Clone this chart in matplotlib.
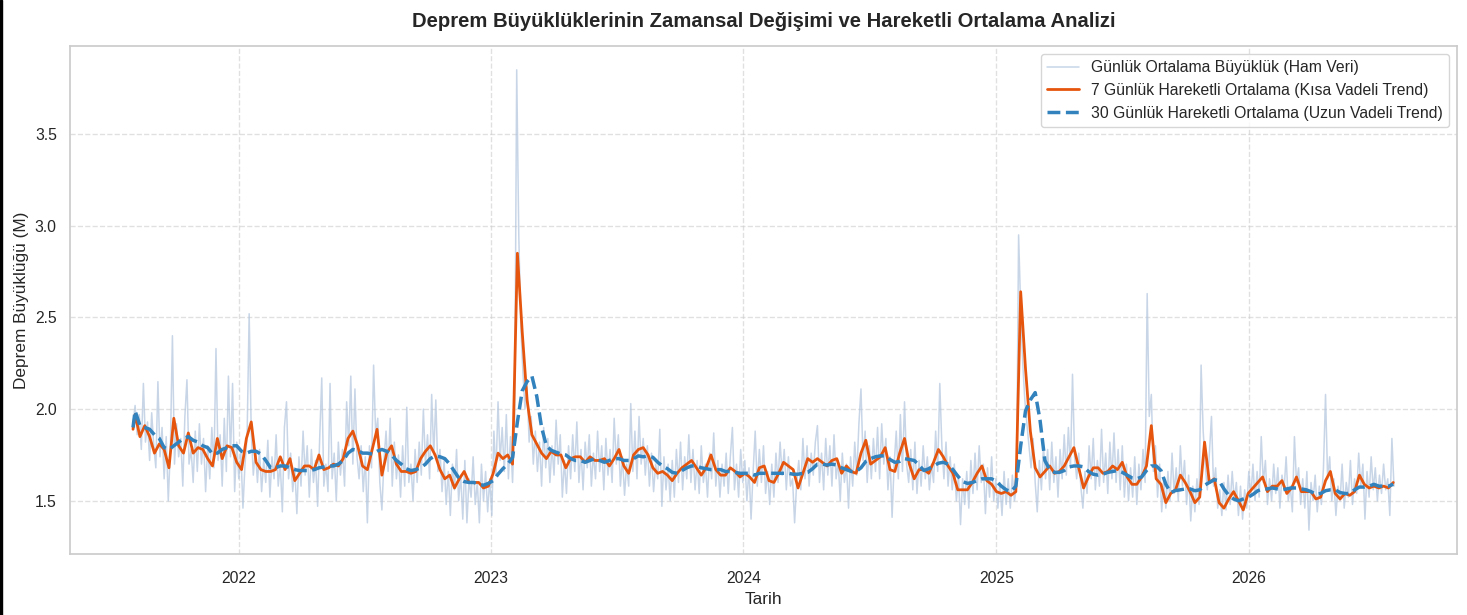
import matplotlib
matplotlib.use('Agg')
import matplotlib.pyplot as plt
import matplotlib.dates as mdates
from matplotlib.patches import Rectangle
import pandas as pd
import seaborn as sns

# gunluk ortalama buyukluk (ham veri), 3 gunde bir okunan degerler, 2021-08-01'den itibaren
raw_values = [
    1.92, 2.02, 1.86, 1.97, 1.78, 2.14, 1.82, 1.93, 1.72, 1.98, 1.80, 1.68, 2.15, 1.74, 1.90,
    1.62, 1.85, 1.50, 1.78, 2.40, 1.70, 1.92, 1.74, 1.84, 1.58, 1.96, 2.16, 1.70, 1.78, 1.60,
    1.88, 1.66, 1.92, 1.70, 1.84, 1.55, 1.80, 1.62, 1.90, 1.68, 2.33, 1.72, 1.86, 1.58, 1.95,
    1.66, 2.18, 1.74, 2.14, 1.55, 1.82, 1.62, 1.76, 1.46, 1.70, 1.85, 2.52, 1.88, 1.64, 1.78,
    1.60, 1.78, 1.55, 1.72, 1.60, 1.83, 1.52, 1.74, 1.62, 1.86, 1.58, 1.70, 1.44, 1.90, 2.04,
    1.62, 1.76, 1.55, 1.68, 1.43, 1.74, 1.58, 1.88, 1.64, 1.80, 1.52, 1.78, 1.60, 1.72, 1.47,
    1.84, 2.17, 1.58, 1.70, 1.55, 2.14, 1.62, 1.76, 1.50, 1.82, 1.64, 1.78, 1.58, 2.04, 1.80,
    2.18, 1.70, 2.11, 1.74, 1.62, 1.80, 1.55, 1.74, 1.38, 1.80, 1.68, 2.24, 1.86, 1.95, 1.60,
    1.45, 1.72, 1.88, 1.66, 1.95, 1.58, 1.82, 1.62, 1.75, 1.52, 1.80, 1.58, 2.01, 1.60, 1.70,
    1.50, 1.78, 1.60, 1.82, 1.64, 2.00, 1.70, 1.86, 1.62, 2.08, 1.75, 2.05, 1.66, 1.78, 1.55,
    1.72, 1.48, 1.66, 1.42, 1.70, 1.56, 1.78, 1.50, 1.64, 1.40, 1.72, 1.38, 1.62, 1.52, 1.74,
    1.48, 1.60, 1.38, 1.70, 1.50, 1.66, 1.44, 1.62, 1.42, 1.88, 1.64, 2.04, 1.72, 1.90, 1.66,
    1.97, 1.62, 1.85, 1.60, 1.95, 3.85, 2.95, 2.45, 2.20, 2.00, 2.12, 1.82, 1.96, 1.70, 1.88,
    1.66, 1.82, 1.58, 1.90, 1.68, 1.84, 1.60, 1.80, 1.64, 1.94, 1.70, 1.86, 1.52, 1.72, 1.54,
    1.80, 1.62, 1.86, 1.66, 1.93, 1.60, 1.78, 1.56, 1.82, 1.68, 1.86, 1.58, 1.76, 1.62, 1.88,
    1.66, 1.80, 1.56, 1.84, 1.64, 1.78, 1.60, 1.95, 1.70, 1.86, 1.58, 1.74, 1.53, 1.70, 1.58,
    2.03, 1.66, 1.88, 1.62, 1.96, 1.70, 1.84, 1.64, 1.80, 1.58, 1.76, 1.55, 1.70, 1.62, 1.89,
    1.47, 1.74, 1.56, 1.70, 1.50, 1.72, 1.52, 1.78, 1.60, 1.82, 1.56, 1.74, 1.62, 1.86, 1.60,
    1.78, 1.56, 1.72, 1.54, 1.80, 1.60, 1.70, 1.52, 1.76, 1.62, 1.87, 1.58, 1.72, 1.52, 1.70,
    1.58, 1.76, 1.54, 1.74, 1.90, 1.56, 1.70, 1.52, 1.78, 1.60, 1.72, 1.50, 1.68, 1.40, 1.66,
    1.88, 1.58, 1.78, 1.60, 1.80, 1.54, 1.66, 1.48, 1.70, 1.52, 1.76, 1.60, 1.82, 1.64, 1.78,
    1.56, 1.74, 1.58, 1.62, 1.38, 1.60, 1.72, 1.56, 1.84, 1.62, 1.80, 1.58, 1.76, 1.64, 1.82,
    1.91, 1.60, 1.76, 1.56, 1.84, 1.64, 1.80, 1.58, 1.86, 1.62, 1.72, 1.50, 1.76, 1.60, 1.70,
    1.46, 1.74, 1.58, 1.82, 1.64, 1.92, 2.11, 1.72, 1.88, 1.60, 1.80, 1.62, 1.84, 1.66, 1.90,
    1.62, 1.92, 1.70, 1.84, 1.56, 1.74, 1.41, 1.70, 1.88, 1.62, 1.97, 1.66, 2.04, 1.70, 1.60,
    1.78, 1.56, 1.82, 1.54, 1.72, 1.58, 1.80, 1.62, 1.74, 1.56, 1.70, 1.60, 1.88, 1.66, 2.14,
    1.80, 1.62, 1.82, 1.58, 1.74, 1.56, 1.70, 1.50, 1.64, 1.37, 1.62, 1.48, 1.66, 1.46, 1.72,
    1.54, 1.76, 1.56, 1.80, 1.60, 1.70, 1.43, 1.68, 1.52, 1.74, 1.50, 1.62, 1.46, 1.60, 1.42,
    1.66, 1.48, 1.62, 1.46, 1.64, 1.50, 1.58, 2.95, 2.55, 2.25, 2.05, 1.92, 1.80, 1.68, 1.84,
    1.60, 1.44, 1.72, 1.56, 1.80, 1.62, 1.78, 1.56, 1.82, 1.60, 1.74, 1.52, 1.78, 1.62, 1.86,
    1.64, 1.90, 1.68, 2.19, 1.74, 1.62, 1.76, 1.58, 1.46, 1.66, 1.54, 1.80, 1.62, 1.84, 1.56,
    1.72, 1.58, 1.89, 1.60, 1.76, 1.54, 1.82, 1.62, 1.87, 1.60, 1.78, 1.56, 1.80, 1.52, 1.70,
    1.50, 1.68, 1.52, 1.74, 1.48, 1.70, 1.56, 1.78, 1.60, 2.63, 1.96, 2.08, 1.66, 1.80, 1.52,
    1.70, 1.44, 1.62, 1.46, 1.66, 1.50, 1.76, 1.54, 1.68, 1.50, 1.80, 1.58, 1.72, 1.48, 1.64,
    1.39, 1.58, 1.44, 1.62, 1.48, 2.24, 1.88, 1.70, 1.56, 1.76, 1.96, 1.58, 1.68, 1.46, 1.56,
    1.42, 1.60, 1.45, 1.64, 1.48, 1.66, 1.50, 1.60, 1.42, 1.58, 1.40, 1.56, 1.46, 1.66, 1.52,
    1.70, 1.50, 1.66, 1.52, 1.85, 1.60, 1.72, 1.48, 1.62, 1.50, 1.70, 1.54, 1.68, 1.46, 1.64,
    1.56, 1.74, 1.50, 1.58, 1.44, 1.85, 1.60, 1.68, 1.48, 1.62, 1.46, 1.66, 1.34, 1.60, 1.50,
    1.64, 1.44, 1.58, 1.48, 1.68, 2.08, 1.62, 1.74, 1.50, 1.62, 1.42, 1.58, 1.50, 1.70, 1.46,
    1.60, 1.52, 1.72, 1.48, 1.62, 1.54, 1.76, 1.58, 1.70, 1.40, 1.66, 1.52, 1.74, 1.56, 1.68,
    1.50, 1.64, 1.54, 1.70, 1.56, 1.62, 1.42, 1.84, 1.58,
]

# 7 gunluk hareketli ortalama, haftalik okunan degerler
ma7_values = [
    1.89,
    1.97, 1.85, 1.91, 1.85, 1.76, 1.81, 1.78, 1.68, 1.95, 1.80, 1.76, 1.87, 1.76,
    1.79, 1.78, 1.73, 1.69, 1.84, 1.73, 1.80, 1.79, 1.71, 1.67, 1.84, 1.93, 1.71,
    1.67, 1.66, 1.66, 1.67, 1.74, 1.67, 1.73, 1.61, 1.65, 1.69, 1.69, 1.67, 1.75,
    1.67, 1.68, 1.70, 1.69, 1.73, 1.84, 1.88, 1.80, 1.69, 1.67, 1.78, 1.89, 1.64,
    1.76, 1.80, 1.70, 1.66, 1.66, 1.65, 1.66, 1.73, 1.77, 1.80, 1.75, 1.67, 1.62,
    1.64, 1.57, 1.62, 1.66, 1.60, 1.60, 1.60, 1.57, 1.58, 1.65, 1.76, 1.73, 1.75,
    1.70, 2.85, 2.42, 2.05, 1.86, 1.81, 1.76, 1.73, 1.77, 1.75, 1.75, 1.68, 1.73,
    1.74, 1.74, 1.71, 1.74, 1.72, 1.72, 1.73, 1.69, 1.73, 1.78, 1.69, 1.65, 1.75,
    1.78, 1.79, 1.75, 1.68, 1.65, 1.66, 1.64, 1.61, 1.65, 1.68, 1.70, 1.72, 1.68,
    1.64, 1.68, 1.75, 1.67, 1.64, 1.64, 1.68, 1.66, 1.63, 1.65, 1.63, 1.60, 1.68,
    1.69, 1.61, 1.60, 1.65, 1.71, 1.69, 1.67, 1.57, 1.65, 1.73, 1.71, 1.73, 1.71,
    1.69, 1.72, 1.73, 1.65, 1.69, 1.66, 1.65, 1.76, 1.83, 1.70, 1.72, 1.74, 1.79,
    1.67, 1.66, 1.76, 1.84, 1.70, 1.62, 1.67, 1.67, 1.65, 1.71, 1.78, 1.74, 1.69,
    1.65, 1.56, 1.56, 1.56, 1.60, 1.65, 1.69, 1.61, 1.59, 1.55, 1.54, 1.55, 1.53,
    1.55, 2.64, 2.22, 1.88, 1.68, 1.63, 1.66, 1.69, 1.65, 1.66, 1.69, 1.74, 1.79,
    1.68, 1.57, 1.63, 1.68, 1.68, 1.65, 1.66, 1.69, 1.67, 1.71, 1.63, 1.59, 1.59,
    1.63, 1.69, 1.91, 1.62, 1.59, 1.49, 1.54, 1.56, 1.64, 1.60, 1.55, 1.49, 1.52,
    1.82, 1.60, 1.62, 1.49, 1.46, 1.51, 1.55, 1.50, 1.45, 1.54, 1.57, 1.60, 1.63,
    1.55, 1.58, 1.58, 1.61, 1.54, 1.57, 1.63, 1.55, 1.55, 1.55, 1.51, 1.52, 1.61,
    1.66, 1.54, 1.51, 1.54, 1.53, 1.55, 1.64, 1.59, 1.57, 1.58, 1.57, 1.58, 1.57, 1.60,
]

# 30 gunluk hareketli ortalama, haftalik okunan degerler
ma30_values = [
    1.90,
    1.99, 1.91, 1.90, 1.89, 1.86, 1.84, 1.79, 1.78, 1.80, 1.82, 1.84, 1.85, 1.83,
    1.82, 1.80, 1.79, 1.755, 1.76, 1.78, 1.79, 1.80, 1.80, 1.77, 1.76, 1.77, 1.77,
    1.755, 1.72, 1.68, 1.68, 1.69, 1.69, 1.68, 1.67, 1.665, 1.665, 1.665, 1.67, 1.68,
    1.685, 1.69, 1.69, 1.70, 1.72, 1.76, 1.78, 1.775, 1.76, 1.76, 1.755, 1.77, 1.78,
    1.77, 1.75, 1.72, 1.70, 1.675, 1.665, 1.67, 1.68, 1.70, 1.73, 1.745, 1.74, 1.73,
    1.70, 1.66, 1.62, 1.605, 1.60, 1.60, 1.59, 1.585, 1.595, 1.61, 1.645, 1.675, 1.70,
    1.735, 1.93, 2.10, 2.15, 2.18, 2.07, 1.90, 1.80, 1.775, 1.765, 1.755, 1.75, 1.73,
    1.72, 1.72, 1.71, 1.72, 1.73, 1.72, 1.71, 1.72, 1.73, 1.73, 1.72, 1.72, 1.73,
    1.745, 1.74, 1.745, 1.737, 1.71, 1.69, 1.675, 1.655, 1.65, 1.665, 1.68, 1.69, 1.69,
    1.68, 1.675, 1.67, 1.67, 1.67, 1.66, 1.66, 1.655, 1.65, 1.65, 1.65, 1.64, 1.65,
    1.65, 1.65, 1.65, 1.65, 1.65, 1.65, 1.645, 1.645, 1.65, 1.655, 1.675, 1.70, 1.70,
    1.695, 1.70, 1.695, 1.68, 1.67, 1.66, 1.66, 1.68, 1.715, 1.73, 1.74, 1.745, 1.745,
    1.725, 1.71, 1.715, 1.73, 1.725, 1.72, 1.695, 1.665, 1.675, 1.69, 1.705, 1.71, 1.70,
    1.67, 1.635, 1.605, 1.595, 1.60, 1.61, 1.62, 1.62, 1.62, 1.605, 1.58, 1.56, 1.55,
    1.58, 1.80, 1.99, 2.05, 2.09, 1.94, 1.72, 1.67, 1.655, 1.655, 1.665, 1.685, 1.69,
    1.69, 1.685, 1.66, 1.645, 1.64, 1.645, 1.655, 1.66, 1.665, 1.655, 1.64, 1.625, 1.62,
    1.63, 1.665, 1.69, 1.69, 1.665, 1.59, 1.545, 1.556, 1.56, 1.565, 1.565, 1.555, 1.56,
    1.585, 1.60, 1.615, 1.61, 1.565, 1.53, 1.51, 1.50, 1.51, 1.52, 1.535, 1.555, 1.565,
    1.565, 1.57, 1.565, 1.56, 1.565, 1.57, 1.57, 1.565, 1.56, 1.55, 1.535, 1.54, 1.555,
    1.56, 1.56, 1.545, 1.54, 1.54, 1.56, 1.575, 1.575, 1.58, 1.59, 1.58, 1.58, 1.58, 1.59,
]

START = '2021-08-01'
TITLE = 'Deprem Büyüklüklerinin Zamansal Değişimi ve Hareketli Ortalama Analizi'
LABELS = ['Günlük Ortalama Büyüklük (Ham Veri)',
          '7 Günlük Hareketli Ortalama (Kısa Vadeli Trend)',
          '30 Günlük Hareketli Ortalama (Uzun Vadeli Trend)']


def _weekly_dates(n):
    # ilk nokta baslangic gunu, sonrasi 3 gunluk kaymayla haftalik
    return pd.DatetimeIndex([START]).append(
        pd.date_range('2021-08-04', periods=n - 1, freq='7D'))


raw = pd.Series(raw_values, index=pd.date_range(START, periods=len(raw_values), freq='3D'))
ma7 = pd.Series(ma7_values, index=_weekly_dates(len(ma7_values)))
ma30 = pd.Series(ma30_values, index=_weekly_dates(len(ma30_values)))

sns.set_theme(style='whitegrid')
plt.rcParams['font.family'] = ['Liberation Sans', 'DejaVu Sans']

fig, ax = plt.subplots(figsize=(14.67, 6.15), dpi=100)
fig.subplots_adjust(left=0.0477, right=0.9932, bottom=0.0992, top=0.9252)

ax.plot(raw.index, raw.values, color='lightsteelblue', alpha=0.7, linewidth=1.1, label=LABELS[0])
ax.plot(ma7.index, ma7.values, color='#e6550d', linewidth=2, label=LABELS[1])
ax.plot(ma30.index, ma30.values, color='#3182bd', linewidth=2.5, linestyle='--', label=LABELS[2])

ax.set_title(TITLE, fontsize=14.6, fontweight='bold', pad=14)
ax.set_xlabel('Tarih', fontsize=12.4)
ax.set_ylabel('Deprem Büyüklüğü (M)', fontsize=12.4)
ax.set_ylim(1.21, 3.98)
ax.xaxis.set_major_locator(mdates.YearLocator())
ax.xaxis.set_major_formatter(mdates.DateFormatter('%Y'))
ax.tick_params(labelsize=11.3)
ax.tick_params(axis='x', pad=6.5)
ax.grid(True, linestyle='--', alpha=0.6)
ax.legend(loc='upper right', fontsize=11.3)

# ekran goruntusundeki sol kenar cizgisi
fig.patches.append(Rectangle((0, 0), 2 / 1467, 1, transform=fig.transFigure,
                             color='black', zorder=10))

plt.savefig('out.png', dpi=100)
plt.close()
